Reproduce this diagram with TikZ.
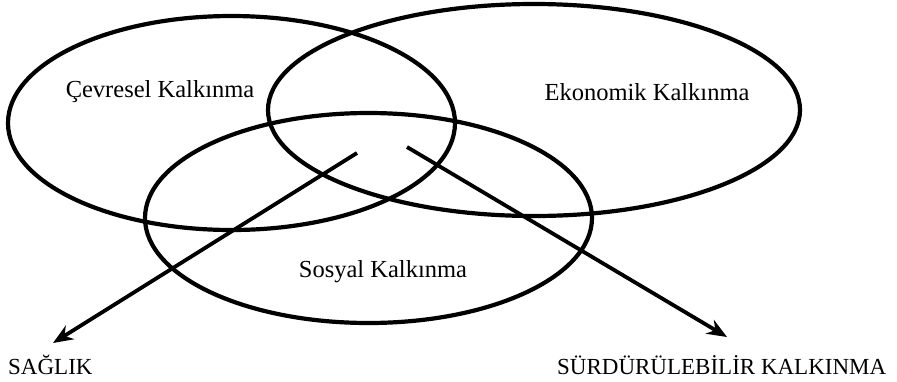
\documentclass[tikz,border=0pt]{standalone}
\usepackage{fontspec}
\setmainfont{Liberation Serif}
\usetikzlibrary{arrows.meta}
\begin{document}
\begin{tikzpicture}[x=1pt,y=-1pt,
  ring/.style={line width=4.2pt},
  lbl/.style={inner sep=0pt,font=\fontsize{24.5}{28}\selectfont},
  blbl/.style={inner sep=0pt,font=\fontsize{23}{27}\selectfont},
  pointer/.style={line width=3.8pt,-{Stealth[length=20pt,width=16pt]}}]
\useasboundingbox (0,0) rectangle (897,381);
\draw[ring] (231.5,123) ellipse [x radius=223.5, y radius=107];
\draw[ring] (534,110) ellipse [x radius=266, y radius=106];
\draw[ring] (368.5,218) ellipse [x radius=223.5, y radius=105];
\node[lbl] (cev) at (160,92) {Çevresel Kalkınma};
\node[lbl] (eko) at (647,92) {Ekonomik Kalkınma};
\node[lbl] (sos) at (383,272) {Sosyal Kalkınma};
\node[blbl,anchor=west] (sag) at (8,365) {SAĞLIK};
\node[blbl,anchor=west] (sur) at (557,365) {SÜRDÜRÜLEBİLİR KALKINMA};
\coordinate (s1) at (357,153);
\coordinate (e1) at (53,343);
\coordinate (s2) at (407,147);
\coordinate (e2) at (727,337);
\draw[pointer] (s1) -- (e1);
\draw[pointer] (s2) -- (e2);
\end{tikzpicture}
\end{document}
